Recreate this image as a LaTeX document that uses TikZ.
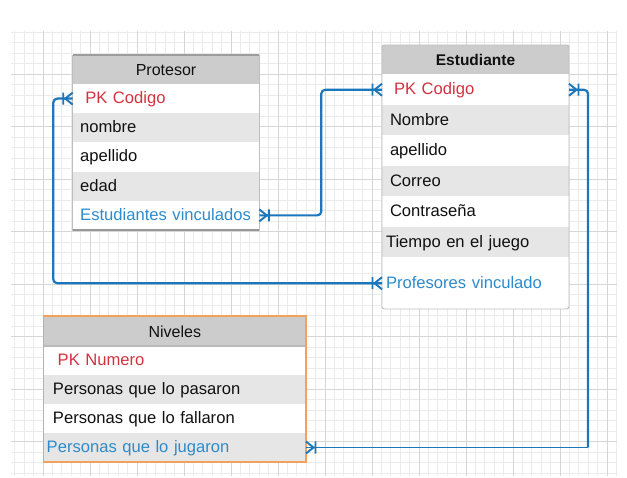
\documentclass[tikz,border=0pt]{standalone}
\usepackage{fontspec}
\setmainfont{Liberation Sans}
\definecolor{gridminor}{HTML}{EBEBEB}
\definecolor{gridmajor}{HTML}{D6D6D6}
\definecolor{hdr}{HTML}{CCCCCC}
\definecolor{alt}{HTML}{E6E6E6}
\definecolor{pkred}{HTML}{D3323F}
\definecolor{fkblue}{HTML}{2E8BCB}
\definecolor{conn}{HTML}{1C76BC}
\definecolor{boxline}{HTML}{BEBEBE}
\definecolor{hdrtop}{HTML}{9C9C9C}
\definecolor{orangeline}{HTML}{F2A15F}
\definecolor{ink}{HTML}{111111}
\tikzset{
  cell/.style={draw=none, inner sep=0pt, outer sep=0pt, anchor=north west,
    text height=13pt, text depth=3pt, font=\fontsize{16.6}{20}\selectfont,
    align=left, fill=white, text=ink},
  hcell/.style={cell, fill=hdr, align=center, text height=12.5pt, text depth=0pt,
    font=\fontsize{16}{19}\selectfont},
  pcell/.style={cell, text width=186.6pt, minimum height=29.2pt},
  ecell/.style={cell, text width=187pt, minimum height=30.5pt},
  ncell/.style={cell, text width=262.3pt, minimum height=29pt},
  rel/.style={draw=conn, line width=2.2pt, rounded corners=4pt},
  crow/.pic={\draw[conn, line width=1.9pt] (0,-6) -- (7.5,0) -- (0,6) (9.5,-6) -- (9.5,6);}
}
\begin{document}
\begin{tikzpicture}[x=1pt,y=-1pt]
\useasboundingbox (0,0) rectangle (627,478);
\fill[white] (0,0) rectangle (627,478);
% grid
\foreach \k in {-3,...,61}{\draw[gridminor, line width=0.8pt] ({43+9.4*\k},31) -- ({43+9.4*\k},476);}
\foreach \k in {-34,...,8}{\draw[gridminor, line width=0.8pt] (11,{389+10.5*\k}) -- (617,{389+10.5*\k});}
\foreach \k in {0,5,...,60}{\draw[gridmajor, line width=0.9pt] ({43+9.4*\k},31) -- ({43+9.4*\k},476);}
\foreach \k in {-30,-25,...,5}{\draw[gridmajor, line width=0.9pt] (11,{389+10.5*\k}) -- (617,{389+10.5*\k});}

% Protesor
\node[pcell, hcell, minimum height=29pt] (p-head) at (72.7,55) {Protesor};
\node[pcell, text=pkred] (p-pk) at (72.7,84) {\hspace*{12.6pt}PK Codigo};
\node[pcell, fill=alt] (p-nom) at (72.7,113.2) {\hspace*{7.5pt}nombre};
\node[pcell] (p-ape) at (72.7,142.4) {\hspace*{7.5pt}apellido};
\node[pcell, fill=alt] (p-eda) at (72.7,171.6) {\hspace*{7.5pt}edad};
\node[pcell, text=fkblue] (p-ev) at (72.7,200.8) {\hspace*{7.5pt}Estudiantes vinculados};
\draw[boxline, line width=0.9pt] (p-head.north west) rectangle (p-ev.south east);
\draw[hdrtop, line width=2pt] (p-head.north west) -- (p-head.north east);
\draw[boxline!80!black, line width=1.3pt] (p-ev.south west) -- (p-ev.south east);

% Estudiante
\node[ecell, hcell, minimum height=29.5pt, font=\bfseries\fontsize{15.5}{19}\selectfont] (e-head) at (382,45) {Estudiante};
\node[ecell, text=pkred] (e-pk) at (382,74.5) {\hspace*{12pt}PK Codigo};
\node[ecell, fill=alt] (e-nom) at (382,105) {\hspace*{8pt}Nombre};
\node[ecell] (e-ape) at (382,135.5) {\hspace*{8pt}apellido};
\node[ecell, fill=alt] (e-cor) at (382,166) {\hspace*{8pt}Correo};
\node[ecell] (e-con) at (382,196.5) {\hspace*{8pt}Contraseña};
\node[ecell, fill=alt] (e-tie) at (382,227) {\hspace*{4pt}Tiempo en el juego};
\node[ecell, text=fkblue, minimum height=51.5pt] (e-pv) at (382,257.5) {\hspace*{4pt}Profesores vinculado};
\draw[boxline, line width=0.9pt, rounded corners=2.5pt] (e-head.north west) rectangle (e-pv.south east);

% Niveles
\node[ncell, hcell, minimum height=30pt] (n-head) at (43.7,316) {Niveles};
\node[ncell, text=pkred] (n-pk) at (43.7,346) {\hspace*{14pt}PK Numero};
\node[ncell, fill=alt] (n-pas) at (43.7,375) {\hspace*{9.3pt}Personas que lo pasaron};
\node[ncell] (n-fal) at (43.7,404) {\hspace*{9.3pt}Personas que lo fallaron};
\node[ncell, text=fkblue, fill=alt] (n-jug) at (43.7,433) {\hspace*{3pt}Personas que lo jugaron};
\draw[hdrtop!70, line width=1.5pt] (n-head.south west) -- (n-head.south east);
\draw[hdrtop!70, line width=1.3pt] (n-jug.south west) -- (n-jug.south east);
\draw[orangeline, line width=1.4pt] (n-head.north west) rectangle (n-jug.south east);

% connectors
\draw[rel] (p-ev.east) -- ([xshift=62pt]p-ev.east) |- (e-pk.west);
\draw[rel] (e-pv.west) -- ([xshift=-328.7pt]e-pv.west) |- (p-pk.west);
\coordinate (c3) at ([xshift=19pt]e-pk.east |- n-jug.east);
\draw[rel] (e-pk.east) -| (c3);
\draw[rel, line width=1.4pt] (c3) -- (n-jug.east);

% crow's feet
\path (p-ev.east) pic{crow};
\path (e-pk.west) pic[rotate=180]{crow};
\path (e-pv.west) pic[rotate=180]{crow};
\path (p-pk.west) pic[rotate=180]{crow};
\path (e-pk.east) pic{crow};
\path (n-jug.east) pic{crow};
\end{tikzpicture}
\end{document}
